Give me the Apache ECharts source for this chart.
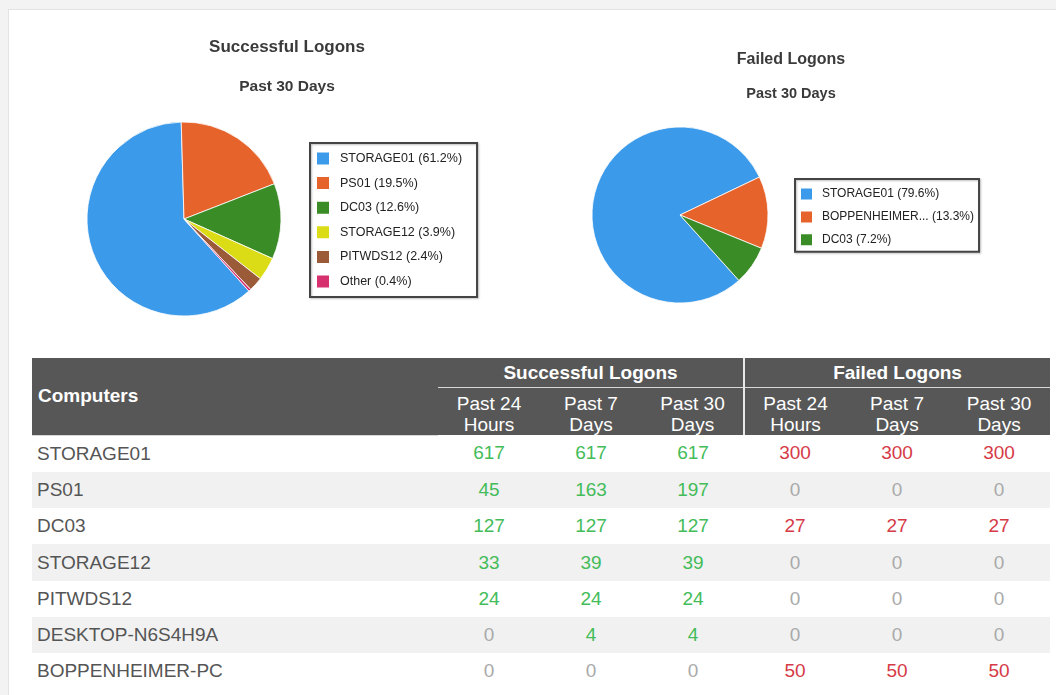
<!DOCTYPE html>
<html>
<head>
<meta charset="utf-8">
<title>Logons</title>
<script src="https://cdn.jsdelivr.net/npm/echarts@6/dist/echarts.min.js"></script>
<style>
  html, body { margin: 0; padding: 0; }
  body {
    width: 1056px; height: 695px; position: relative; overflow: hidden;
    background: #f3f3f3; font-family: "Liberation Sans", Arial, sans-serif;
  }
  #panel {
    position: absolute; left: 8px; top: 9px; right: 0; bottom: 0;
    background: #fff; border-left: 1px solid #e3e3e3; border-top: 1px solid #e3e3e3;
  }
  #charts { position: absolute; left: 0; top: 0; width: 1056px; height: 350px; }
  #logons {
    position: absolute; left: 32px; top: 358px; width: 1018px;
    border-collapse: collapse; table-layout: fixed; font-size: 19px;
  }
  #logons th { background: #575757; color: #fff; padding: 0; }
  #logons tr.grp th { height: 29px; font-weight: bold; border-bottom: 1px solid #d8d8d8; }
  #logons tr.per th { height: 47px; font-weight: normal; line-height: 21px; vertical-align: bottom; }
  #logons th.name { text-align: left; padding-left: 6px; font-weight: bold; border-bottom: none; }
  #logons th.sep { border-left: 2px solid #e8e8e8; }
  #logons td { height: 36.3px; padding: 0; text-align: center; color: #aaa; }
  #logons td.name { text-align: left; padding-left: 5px; color: #555; }
  #logons tbody tr:nth-child(even) td { background: #f1f1f1; }
  #logons td.ok { color: #43bc59; }
  #logons td.bad { color: #d63a46; }
</style>
</head>
<body>
<div id="panel"></div>
<div id="charts"></div>
<table id="logons">
  <colgroup><col style="width:406px"><col span="6" style="width:102px"></colgroup>
  <thead>
    <tr class="grp">
      <th rowspan="2" class="name">Computers</th>
      <th colspan="3">Successful Logons</th>
      <th colspan="3" class="sep">Failed Logons</th>
    </tr>
    <tr class="per" id="periods"></tr>
  </thead>
  <tbody id="rows"></tbody>
</table>
<script>
var computers = ['STORAGE01', 'PS01', 'DC03', 'STORAGE12', 'PITWDS12', 'DESKTOP-N6S4H9A', 'BOPPENHEIMER-PC'];
var success24h = [617, 45, 127, 33, 24, 0, 0];
var success7d = [617, 163, 127, 39, 24, 4, 0];
var success30d = [617, 197, 127, 39, 24, 4, 0];
var failed24h = [300, 0, 27, 0, 0, 0, 50];
var failed7d = [300, 0, 27, 0, 0, 0, 50];
var failed30d = [300, 0, 27, 0, 0, 0, 50];
var periodLabels = [['Past 24', 'Hours'], ['Past 7', 'Days'], ['Past 30', 'Days']];
var sliceColors = ['#3b9ae9', '#e6632b', '#3a8c27', '#dcdc16', '#9b5b39', '#d6306f'];

var font = '"Liberation Sans", Arial, sans-serif';

// table
var periods = document.getElementById('periods');
for (var k = 0; k < 2; k++) {
  periodLabels.forEach(function (p, j) {
    var th = document.createElement('th');
    th.innerHTML = p[0] + '<br>' + p[1];
    if (k == 1 && j == 0) th.className = 'sep';
    periods.appendChild(th);
  });
}
var body = document.getElementById('rows');
computers.forEach(function (name, i) {
  var tr = document.createElement('tr');
  var td = document.createElement('td');
  td.className = 'name';
  td.textContent = name;
  tr.appendChild(td);
  [success24h, success7d, success30d].forEach(function (col) {
    var c = document.createElement('td');
    c.textContent = col[i];
    if (col[i] > 0) c.className = 'ok';
    tr.appendChild(c);
  });
  [failed24h, failed7d, failed30d].forEach(function (col) {
    var c = document.createElement('td');
    c.textContent = col[i];
    if (col[i] > 0) c.className = 'bad';
    tr.appendChild(c);
  });
  body.appendChild(tr);
});

// top N slices, the rest goes into "Other"
function topSlices(values, keep) {
  var items = computers.map(function (n, i) { return { name: n, value: values[i] }; })
    .filter(function (d) { return d.value > 0; })
    .sort(function (a, b) { return b.value - a.value; });
  if (items.length > keep) {
    var rest = items.slice(keep).reduce(function (s, d) { return s + d.value; }, 0);
    items = items.slice(0, keep).concat([{ name: 'Other', value: rest }]);
  }
  items.forEach(function (d, i) { d.itemStyle = { color: sliceColors[i] }; });
  return items;
}

var successData = topSlices(success30d, 5);
var failedData = topSlices(failed30d, 5);

function legendLabel(data) {
  var total = data.reduce(function (s, d) { return s + d.value; }, 0);
  return function (name) {
    var d = data.filter(function (x) { return x.name == name; })[0];
    var label = name.length > 13 ? name.slice(0, 12) + '...' : name;
    return label + ' (' + (d.value / total * 100).toFixed(1) + '%)';
  };
}

function titleStyle(size) {
  return { fontSize: size, fontWeight: 'bold', color: '#3a3a3a', fontFamily: font };
}

var chart = echarts.init(document.getElementById('charts'));
chart.setOption({
  animation: false,
  title: [
    { text: 'Successful Logons', left: 287, top: 39, textAlign: 'center', padding: 0, textStyle: titleStyle(17) },
    { text: 'Past 30 Days', left: 287, top: 79, textAlign: 'center', padding: 0, textStyle: titleStyle(15.5) },
    { text: 'Failed Logons', left: 791, top: 52, textAlign: 'center', padding: 0, textStyle: titleStyle(16) },
    { text: 'Past 30 Days', left: 791, top: 86, textAlign: 'center', padding: 0, textStyle: titleStyle(14.5) }
  ],
  legend: [
    {
      orient: 'vertical', left: 310, top: 143,
      data: successData.map(function (d) { return d.name; }),
      formatter: legendLabel(successData),
      selectedMode: false,
      icon: 'rect', itemWidth: 14, itemHeight: 14, itemGap: 8.6,
      padding: [7.5, 15, 7.5, 5],
      borderColor: '#444', borderWidth: 2,
      shadowColor: 'rgba(0,0,0,0.25)', shadowBlur: 2, shadowOffsetX: 1, shadowOffsetY: 1,
      textStyle: { fontSize: 12.5, color: '#222', fontFamily: font, lineHeight: 14, padding: [0, 0, 0, 5] }
    },
    {
      orient: 'vertical', left: 795, top: 179,
      data: failedData.map(function (d) { return d.name; }),
      formatter: legendLabel(failedData),
      selectedMode: false,
      icon: 'rect', itemWidth: 13, itemHeight: 13, itemGap: 7.9,
      padding: [7.5, 5, 4.5, 4],
      borderColor: '#444', borderWidth: 2,
      shadowColor: 'rgba(0,0,0,0.25)', shadowBlur: 2, shadowOffsetX: 1, shadowOffsetY: 1,
      textStyle: { fontSize: 12, color: '#222', fontFamily: font, lineHeight: 13, padding: [0, 0, 0, 4] }
    }
  ],
  series: [
    {
      name: 'Successful Logons', type: 'pie',
      center: [184, 219], radius: 97,
      startAngle: -48, clockwise: true,
      label: { show: false }, labelLine: { show: false },
      emphasis: { disabled: true },
      itemStyle: { borderColor: '#fff', borderWidth: 0.8 },
      data: successData
    },
    {
      name: 'Failed Logons', type: 'pie',
      center: [680, 215], radius: 88,
      startAngle: -48, clockwise: true,
      label: { show: false }, labelLine: { show: false },
      emphasis: { disabled: true },
      itemStyle: { borderColor: '#fff', borderWidth: 0.8 },
      data: failedData
    }
  ]
});
</script>
</body>
</html>
